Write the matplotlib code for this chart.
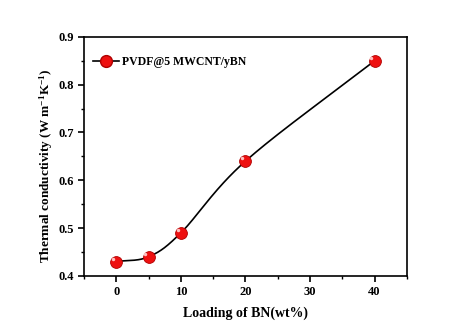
import numpy as np
import matplotlib
matplotlib.use("Agg")
import matplotlib.pyplot as plt
from matplotlib.ticker import MultipleLocator

bn_loading = [0, 5, 10, 20, 40]
conductivity = [0.43, 0.44, 0.49, 0.64, 0.85]
series_label = "PVDF@5 MWCNT/yBN"

plt.rcParams['font.family'] = ['Liberation Serif', 'DejaVu Serif']
plt.rcParams['font.weight'] = 'bold'
plt.rcParams['mathtext.fontset'] = 'custom'
plt.rcParams['mathtext.rm'] = 'Liberation Serif:bold'
plt.rcParams['mathtext.bf'] = 'Liberation Serif:bold'
plt.rcParams['mathtext.default'] = 'bf'

def catmull_rom(x, y, n=60):
    P = np.column_stack([np.asarray(x, float), np.asarray(y, float)])
    k = len(P)
    T = np.zeros_like(P)
    T[0] = P[1] - P[0]
    T[-1] = P[-1] - P[-2]
    for i in range(1, k - 1):
        T[i] = (P[i + 1] - P[i - 1]) / 2
    pts = []
    t = np.linspace(0, 1, n)[:, None]
    h00 = 2 * t**3 - 3 * t**2 + 1; h10 = t**3 - 2 * t**2 + t
    h01 = -2 * t**3 + 3 * t**2; h11 = t**3 - t**2
    for i in range(k - 1):
        pts.append(h00 * P[i] + h10 * T[i] + h01 * P[i + 1] + h11 * T[i + 1])
    pts = np.vstack(pts)
    return pts[:, 0], pts[:, 1]

fig = plt.figure(figsize=(4.72, 3.32), dpi=100)
ax = fig.add_axes([0.178, 0.169, 0.684, 0.72])

xs, ys = catmull_rom(bn_loading, conductivity)
ax.plot(xs, ys, color='black', lw=1.2, zorder=2)
ax.plot(bn_loading, conductivity, 'o', ms=8.5, color='#ee1010', mec='#b00000', mew=0.6, zorder=3)
ax.plot(np.array(bn_loading) - 0.5, np.array(conductivity) + 0.006, 'o', ms=2.5, color='#ffc0c0', mec='none', zorder=4)
ax.plot([], [], '-o', color='black', mfc='#ee1010', mec='#b00000', ms=8.5, lw=1.2, label=series_label)

ax.set_xlim(-5, 45)
ax.set_ylim(0.4, 0.9)
ax.xaxis.set_major_locator(MultipleLocator(10))
ax.xaxis.set_minor_locator(MultipleLocator(5))
ax.yaxis.set_major_locator(MultipleLocator(0.1))
ax.yaxis.set_minor_locator(MultipleLocator(0.05))
ax.tick_params(which='major', direction='out', length=4, width=1.2, labelsize=9)
ax.tick_params(which='minor', direction='out', length=2.5, width=1)
for s in ax.spines.values():
    s.set_linewidth(1.2)
for lab in ax.get_xticklabels() + ax.get_yticklabels():
    lab.set_fontweight('bold')

ax.set_xlabel('Loading of BN(wt%)', fontsize=10, fontweight='bold', labelpad=6)
ax.set_ylabel(r'Thermal conductivity (W m$^{-1}$K$^{-1}$)', fontsize=9.5, fontweight='bold')
ax.yaxis.set_label_coords(-0.09, 0.46)
ax.legend(loc='upper left', bbox_to_anchor=(-0.01, 0.97), frameon=False, handlelength=2.2,
          handletextpad=0.3, borderaxespad=0.6, prop={'weight': 'bold', 'size': 8.5})

fig.savefig('out.png', dpi=100)
